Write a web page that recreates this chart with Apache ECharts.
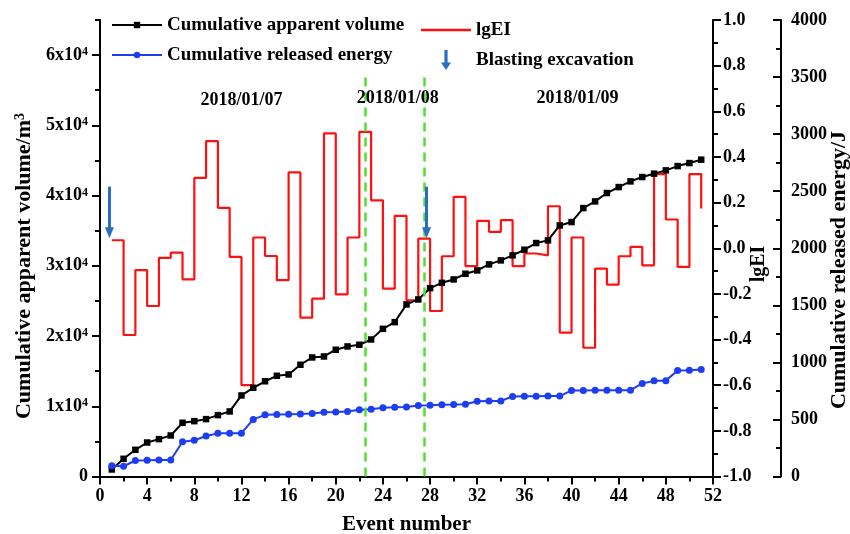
<!DOCTYPE html>
<html>
<head>
<meta charset="utf-8">
<script src="https://cdn.jsdelivr.net/npm/echarts@6/dist/echarts.min.js"></script>
<style>
  html, body { margin: 0; padding: 0; background: #fff; }
  #chart { width: 850px; height: 534px; }
</style>
</head>
<body>
<div id="chart"></div>
<script>
// Event numbers of the recorded microseismic events
const events = [1, 2, 3, 4, 5, 6, 7, 8, 9, 10, 11, 12, 13, 14, 15, 16, 17, 18, 19, 20,
  21, 22, 23, 24, 25, 26, 27, 28, 29, 30, 31, 32, 33, 34, 35, 36, 37, 38, 39, 40,
  41, 42, 43, 44, 45, 46, 47, 48, 49, 50, 51];

// Cumulative apparent volume (m^3)
const cumVolume = [1000, 2520, 3800, 4840, 5320, 5840, 7650, 7880, 8170, 8740,
  9260, 11540, 12630, 13560, 14340, 14530, 15910, 16950, 17090, 18050,
  18520, 18760, 19510, 21030, 21980, 24500, 25210, 26820, 27580, 28060,
  28870, 29340, 30200, 30770, 31480, 32290, 33240, 33620, 35750, 36230,
  38220, 39170, 40360, 41210, 42020, 42640, 43120, 43590, 44200, 44630, 45110];

// Cumulative released energy (J)
const cumEnergy = [95, 90, 140, 142, 145, 145, 305, 318, 355, 378,
  380, 380, 500, 540, 544, 545, 548, 552, 563, 565,
  570, 585, 590, 602, 607, 610, 622, 624, 628, 630,
  633, 660, 661, 662, 702, 703, 703, 705, 705, 754,
  754, 755, 755, 755, 756, 815, 838, 840, 928, 930, 938];

// Energy index (lgEI) of each event
const lgEI = [0.035, -0.38, -0.096, -0.253, -0.042, -0.019, -0.136, 0.308, 0.469, 0.177,
  -0.038, -0.60, 0.047, -0.034, -0.14, 0.332, -0.304, -0.221, 0.503, -0.202,
  0.047, 0.51, 0.21, -0.177, 0.142, -0.228, 0.042, -0.275, -0.035, 0.225,
  -0.078, 0.12, 0.072, 0.123, -0.078, -0.023, -0.031, 0.184, -0.37, 0.047,
  -0.436, -0.089, -0.159, -0.035, 0.006, -0.075, 0.325, 0.126, -0.082, 0.325, 0.174];

// Blasting excavation times and day boundaries (event number scale)
const blastEvents = [0.8, 27.7];
const dayBoundaries = [22.5, 27.5];
const dayLabels = ['2018/01/07', '2018/01/08', '2018/01/09'];

// Labelled ticks of the volume axis
const volumeTicks = [0, 10000, 20000, 30000, 40000, 50000, 60000];

const FONT = '"Liberation Serif", "Times New Roman", serif';
const BLACK = '#000';
const txt = (size) => ({ fontFamily: FONT, fontWeight: 'bold', fontSize: size, color: BLACK });

const chart = echarts.init(document.getElementById('chart'), null, { renderer: 'canvas' });

const pairs = (vals) => vals.map((v, i) => [events[i], v]);

const axisLineStyle = { color: BLACK, width: 2 };
const tickLineStyle = { color: BLACK, width: 2 };

const option = {
  backgroundColor: '#fff',
  animation: false,
  grid: { left: 100, right: 137, top: 20, bottom: 57.5, containLabel: false, outerBoundsMode: 'none' },
  legend: [
    {
      left: 106, top: 10, orient: 'vertical', itemWidth: 50, itemHeight: 8, itemGap: 10,
      selectedMode: false,
      textStyle: Object.assign(txt(19), { lineHeight: 20 }),
      data: ['Cumulative apparent volume', 'Cumulative released energy']
    },
    {
      left: 416, top: 15, orient: 'vertical', itemWidth: 50, itemHeight: 20, itemGap: 10,
      selectedMode: false, symbolKeepAspect: true,
      textStyle: Object.assign(txt(19), { lineHeight: 20 }),
      data: [
        { name: 'lgEI', icon: 'path://M0,0H50V2.4H0Z' },
        { name: 'Blasting excavation', icon: 'path://M3.4,0H6.6V12.5H10L5,20L0,12.5H3.4Z' }
      ]
    }
  ],
  xAxis: {
    type: 'value', min: 0, max: 52, interval: 4,
    axisLine: { onZero: false, lineStyle: axisLineStyle },
    axisTick: { length: 8, lineStyle: tickLineStyle },
    minorTick: { show: true, splitNumber: 2, length: 5, lineStyle: tickLineStyle },
    splitLine: { show: false },
    axisLabel: Object.assign(txt(18), { margin: 11 }),
    name: 'Event number', nameLocation: 'middle', nameGap: 38,
    nameTextStyle: txt(21)
  },
  yAxis: [
    {
      type: 'value', position: 'left', min: 0, max: 65000, interval: 10000,
      axisLine: { show: true, onZero: false, lineStyle: axisLineStyle },
      axisTick: { show: true, length: 8, lineStyle: tickLineStyle, customValues: volumeTicks },
      splitLine: { show: false },
      axisLabel: {
        margin: 12,
        customValues: volumeTicks,
        formatter: (v) => v === 0 ? '{b|0}' : '{b|' + (v / 10000) + 'x10}{s|4}',
        rich: {
          b: txt(18),
          s: Object.assign(txt(12), { verticalAlign: 'top' })
        }
      }
    },
    {
      type: 'value', position: 'right', min: -1, max: 1, interval: 0.2,
      axisLine: { show: true, onZero: false, lineStyle: axisLineStyle },
      axisTick: { show: true, length: 8, lineStyle: tickLineStyle },
      minorTick: { show: true, splitNumber: 2, length: 5, lineStyle: tickLineStyle },
      splitLine: { show: false },
      axisLabel: Object.assign(txt(18), { margin: 10, formatter: (v) => v.toFixed(1) })
    },
    {
      type: 'value', position: 'right', offset: 68, min: 0, max: 4000, interval: 500,
      axisLine: { show: true, onZero: false, lineStyle: axisLineStyle },
      axisTick: { show: true, inside: true, length: 8, lineStyle: tickLineStyle },
      minorTick: { show: true, splitNumber: 2, length: 5, lineStyle: tickLineStyle },
      splitLine: { show: false },
      axisLabel: Object.assign(txt(18), { margin: 10, formatter: (v) => String(v) })
    },
    {
      // half-step ticks of the volume axis
      type: 'value', position: 'left', min: 0, max: 65000, interval: 5000,
      axisLine: { show: false },
      axisTick: { show: true, length: 5, lineStyle: tickLineStyle },
      axisLabel: { show: false },
      splitLine: { show: false }
    }
  ],
  series: [
    {
      name: 'Cumulative apparent volume', type: 'line', yAxisIndex: 0,
      data: pairs(cumVolume),
      symbol: 'rect', symbolSize: 6.5, showAllSymbol: true,
      color: BLACK,
      lineStyle: { color: BLACK, width: 2 },
      itemStyle: { color: BLACK },
      z: 3
    },
    {
      name: 'Cumulative released energy', type: 'line', yAxisIndex: 2,
      data: pairs(cumEnergy),
      symbol: 'circle', symbolSize: 7, showAllSymbol: true,
      color: '#1d3df2',
      lineStyle: { color: '#1d3df2', width: 2 },
      itemStyle: { color: '#1d3df2' },
      z: 3
    },
    {
      name: 'lgEI', type: 'line', yAxisIndex: 1, step: 'end',
      data: pairs(lgEI),
      symbol: 'none',
      color: '#ff1010',
      lineStyle: { color: '#ff1010', width: 2.2 },
      itemStyle: { color: '#ff1010' },
      z: 2,
      markLine: {
        silent: true, symbol: 'none', animation: false,
        label: { show: false },
        lineStyle: { color: '#55dd33', width: 2.5, type: [9, 6] },
        data: dayBoundaries.map((x) => [{ coord: [x, -1] }, { coord: [x, 0.77] }])
      },
      markPoint: {
        silent: true, symbol: 'circle', symbolSize: 0, animation: false,
        label: Object.assign(txt(18), { show: true, position: 'inside', formatter: (p) => p.name }),
        data: [
          { name: dayLabels[0], coord: [12, 0.65] },
          { name: dayLabels[1], coord: [25.25, 0.658] },
          { name: dayLabels[2], coord: [40.5, 0.658] }
        ]
      }
    },
    {
      name: 'Blasting excavation', type: 'line', yAxisIndex: 1,
      data: [],
      color: '#2a6fbd',
      itemStyle: { color: '#2a6fbd' },
      lineStyle: { color: '#2a6fbd' },
      markLine: {
        silent: true, animation: false,
        symbol: ['none', 'triangle'], symbolSize: [9, 11],
        label: { show: false },
        lineStyle: { color: '#2a6fbd', width: 3, type: 'solid' },
        data: blastEvents.map((x) => [{ coord: [x, 0.27] }, { coord: [x, 0.068] }])
      }
    }
  ],
  graphic: [
    {
      type: 'text', x: 24, y: 266, rotation: Math.PI / 2,
      style: {
        text: '{t|Cumulative apparent volume/m}{s|3}',
        align: 'center', verticalAlign: 'middle',
        rich: {
          t: txt(22),
          s: Object.assign(txt(14), { verticalAlign: 'top' })
        }
      }
    },
    {
      type: 'text', x: 759, y: 264, rotation: Math.PI / 2,
      style: { text: 'lgEI', align: 'center', verticalAlign: 'middle',
        font: 'bold 20px ' + FONT, fill: BLACK }
    },
    {
      type: 'text', x: 839, y: 270, rotation: Math.PI / 2,
      style: { text: 'Cumulative released energy/J', align: 'center', verticalAlign: 'middle',
        font: 'bold 22px ' + FONT, fill: BLACK }
    }
  ]
};

chart.setOption(option);
</script>
</body>
</html>
